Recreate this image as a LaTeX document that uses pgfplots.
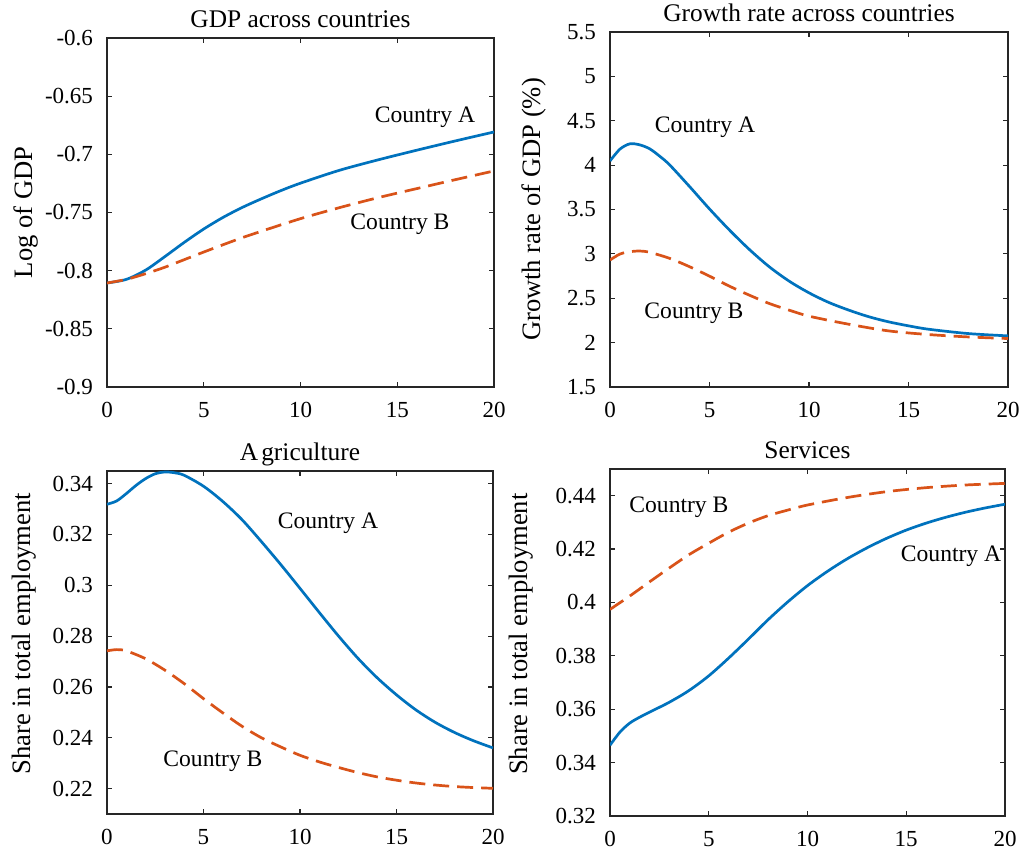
\documentclass[border=0pt]{standalone}
\usepackage{fontspec}
\setmainfont{Liberation Serif}
\usepackage{pgfplots}
\pgfplotsset{compat=1.18}
\definecolor{mblue}{rgb}{0,0.447,0.741}
\definecolor{mred}{rgb}{0.85,0.325,0.098}
\definecolor{axgray}{rgb}{0.15,0.15,0.15}
\tikzset{lab/.style={font=\fontsize{11.8}{13}\selectfont, anchor=center, text=black}}
\pgfplotsset{
  every axis title shift=0pt,
  mystyle/.style={
    scale only axis, anchor=south west,
    xmin=0, xmax=20, xtick={0,5,10,15,20},
    xticklabels={0,5,10,15,20},
    tick align=inside, tick pos=both, major tick length=2.5pt,
    axis line style={axgray, line width=0.6pt},
    every tick/.style={axgray, line width=0.6pt},
    tick label style={font=\fontsize{11.5}{13}\selectfont, text=black},
    xticklabel style={yshift=-4pt},
    yticklabel style={xshift=-3.5pt},
    title style={font=\fontsize{12.7}{14}\selectfont, at={(axis description cs:0.5,1)}, anchor=base, yshift=5pt},
    ylabel style={font=\fontsize{13.3}{15}\selectfont, anchor=center},
  },
  lineA/.style={mblue, line width=1.35pt, smooth},
  lineB/.style={mred, line width=1.35pt, smooth, dash pattern=on 8pt off 4pt},
}
\begin{document}
\begin{tikzpicture}
\useasboundingbox (0,0) rectangle (512pt,427.5pt);
% Top-left
\begin{axis}[mystyle, at={(53.5pt,234pt)}, width=193.5pt, height=174.5pt,
  ymin=-0.9, ymax=-0.6, ytick={-0.9,-0.85,-0.8,-0.75,-0.7,-0.65,-0.6},
  yticklabels={-0.9,-0.85,-0.8,-0.75,-0.7,-0.65,-0.6},
  title={GDP across countries}, ylabel={Log of GDP},
  ylabel style={at={(axis description cs:-0.21,0.5)}}]
\addplot[lineA] coordinates {(0,-0.8106) (1,-0.8075) (2,-0.7995) (3,-0.7878) (4,-0.7756) (5,-0.7642) (6,-0.7542) (7,-0.7456) (8,-0.7381) (9,-0.7311) (10,-0.7248) (12,-0.7138) (14,-0.7048) (16,-0.6965) (18,-0.6885) (20,-0.6808)};
\addplot[lineB] coordinates {(0,-0.8106) (1,-0.8075) (2,-0.8026) (3,-0.797) (4,-0.7905) (5,-0.784) (6,-0.7777) (7,-0.7716) (8,-0.766) (10,-0.7553) (12,-0.7459) (14,-0.7373) (16,-0.7295) (18,-0.7218) (20,-0.7143)};
\node[lab] at (axis cs:16.43,-0.668) {Country A};
\node[lab] at (axis cs:15.14,-0.76) {Country B};
\end{axis}
% Top-right
\begin{axis}[mystyle, at={(305pt,234pt)}, width=199pt, height=177.5pt,
  ymin=1.5, ymax=5.5, ytick={1.5,2,2.5,3,3.5,4,4.5,5,5.5},
  yticklabels={1.5,2,2.5,3,3.5,4,4.5,5,5.5},
  title={Growth rate across countries}, ylabel={Growth rate of GDP (\%)},
  ylabel style={at={(axis description cs:-0.191,0.5)}}]
\addplot[lineA] coordinates {(0,4.047) (0.5,4.18) (1,4.24) (1.5,4.228) (2,4.183) (2.5,4.10) (3,4.002) (4,3.758) (5,3.506) (6,3.269) (7,3.05) (8,2.855) (9,2.693) (10,2.561) (11,2.452) (12,2.366) (13,2.292) (14,2.234) (15,2.189) (16,2.151) (18,2.102) (20,2.076)};
\addplot[lineB] coordinates {(0,2.93) (0.5,2.998) (1,3.024) (1.5,3.032) (2,3.017) (3,2.949) (4,2.855) (5,2.749) (6,2.636) (7,2.535) (8,2.441) (9,2.366) (10,2.298) (12,2.207) (14,2.132) (16,2.091) (18,2.064) (20,2.046)};
\node[lab] at (axis cs:4.77,4.43) {Country A};
\node[lab] at (axis cs:4.22,2.33) {Country B};
\end{axis}
% Bottom-left
\begin{axis}[mystyle, at={(53.5pt,20.5pt)}, width=193pt, height=171.5pt,
  ymin=0.21, ymax=0.345, ytick={0.22,0.24,0.26,0.28,0.3,0.32,0.34},
  yticklabels={0.22,0.24,0.26,0.28,0.3,0.32,0.34},
  title={A\kern1.5pt griculture}, ylabel={Share in total employment},
  ylabel style={at={(axis description cs:-0.215,0.525)}}]
\addplot[lineA] coordinates {(0,0.3319) (0.5,0.3332) (1,0.3361) (1.5,0.3393) (2,0.342) (2.5,0.3439) (3,0.3446) (3.5,0.3443) (4,0.3433) (5,0.339) (6,0.3330) (7,0.3258) (8,0.3172) (9,0.3082) (10,0.2988) (11,0.2893) (12,0.2800) (13,0.2713) (14,0.2636) (15,0.2569) (16,0.2510) (17,0.2461) (18,0.2421) (19,0.2388) (20,0.2360)};
\addplot[lineB] coordinates {(0,0.2742) (0.5,0.2747) (1,0.2742) (2,0.2711) (3,0.2666) (4,0.2613) (5,0.2554) (6,0.2498) (7,0.2445) (8,0.24) (9,0.2364) (10,0.2331) (11,0.2305) (12,0.2283) (13,0.2263) (14,0.2246) (15,0.2233) (16,0.2222) (17,0.2214) (18,0.2208) (19,0.2204) (20,0.2201)};
\node[lab] at (axis cs:11.45,0.3246) {Country A};
\node[lab] at (axis cs:5.49,0.2306) {Country B};
\end{axis}
% Bottom-right
\begin{axis}[mystyle, at={(305pt,19.5pt)}, width=197.5pt, height=173.5pt,
  ymin=0.32, ymax=0.45, ytick={0.32,0.34,0.36,0.38,0.4,0.42,0.44},
  yticklabels={0.32,0.34,0.36,0.38,0.4,0.42,0.44},
  title={Services}, ylabel={Share in total employment},
  ylabel style={at={(axis description cs:-0.225,0.524)}}]
\addplot[lineA] coordinates {(0,0.3465) (0.5,0.3514) (1,0.3548) (1.5,0.357) (2,0.3589) (3,0.3626) (4,0.367) (5,0.3725) (6,0.3791) (7,0.3862) (8,0.3935) (9,0.4002) (10,0.4063) (11,0.4116) (12,0.4163) (13,0.4204) (14,0.4240) (15,0.4271) (16,0.4297) (17,0.4319) (18,0.4338) (19,0.4354) (20,0.4368)};
\addplot[lineB] coordinates {(0,0.3974) (1,0.4024) (2,0.4077) (3,0.4129) (4,0.4179) (5,0.4222) (6,0.4263) (7,0.4297) (8,0.4325) (9,0.4346) (10,0.4365) (12,0.4393) (14,0.4415) (16,0.443) (18,0.444) (20,0.4446)};
\node[lab] at (axis cs:3.49,0.4355) {Country B};
\node[lab] at (axis cs:17.27,0.4173) {Country A};
\end{axis}
\end{tikzpicture}
\end{document}
